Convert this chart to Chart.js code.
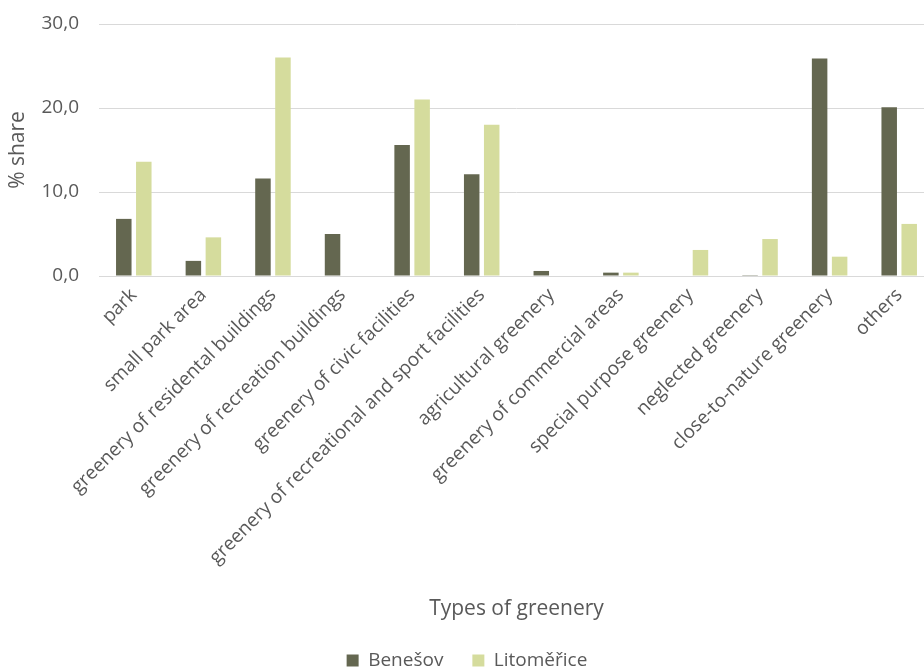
<!DOCTYPE html>
<html>
<head>
<meta charset="utf-8">
<script src="https://cdn.jsdelivr.net/npm/chart.js@4"></script>
<style>
  html, body { margin: 0; padding: 0; background: #fff; overflow: hidden; }
  #clip { width: 924px; height: 669px; overflow: hidden; }
  #wrap { width: 936px; height: 680px; }
</style>
</head>
<body>
<div id="clip"><div id="wrap"><canvas id="chart"></canvas></div></div>
<script>
// categories and values
var categories = [
  "park",
  "small park area",
  "greenery of residental buildings",
  "greenery of recreation buildings",
  "greenery of civic facilities",
  "greenery of recreational and sport facilities",
  "agricultural greenery",
  "greenery of commercial areas",
  "special purpose greenery",
  "neglected greenery",
  "close-to-nature greenery",
  "others"
];
var benesov     = [6.8, 1.8, 11.6, 5.0, 15.6, 12.1, 0.6, 0.4, 0.0, 0.1, 25.9, 20.1];
var litomerice  = [13.6, 4.6, 26.0, 0.0, 21.0, 18.0, 0.0, 0.4, 3.1, 4.4, 2.3, 6.2];
var seriesNames = ["Benešov", "Litoměřice"];
var yTicks      = [0, 10, 20, 30];

var textColor = '#595959';
var fontFam = '"Open Sans", sans-serif';

var ctx = document.getElementById('chart');
var chart = new Chart(ctx, {
  type: 'bar',
  data: {
    labels: categories,
    datasets: [
      { label: seriesNames[0], data: benesov, backgroundColor: '#646750' },
      { label: seriesNames[1], data: litomerice, backgroundColor: '#d5dc9d' }
    ]
  },
  options: {
    responsive: true,
    maintainAspectRatio: false,
    animation: false,
    categoryPercentage: 0.575,
    barPercentage: 0.775,
    layout: { padding: { top: 24, right: 2, bottom: 0, left: 0 } },
    plugins: {
      tooltip: { enabled: false },
      legend: {
        position: 'bottom',
        labels: {
          color: textColor,
          font: { family: fontFam, size: 19 },
          boxWidth: 12,
          boxHeight: 12,
          padding: 29
        }
      }
    },
    scales: {
      x: {
        grid: { display: false, drawTicks: false },
        border: { color: '#d9d9d9' },
        ticks: {
          color: textColor,
          font: { family: fontFam, size: 19 },
          maxRotation: 45,
          minRotation: 45,
          autoSkip: false,
          padding: 8
        },
        title: {
          display: true,
          text: 'Types of greenery',
          color: textColor,
          font: { family: fontFam, size: 21 },
          padding: { top: 0, bottom: 0 }
        },
        afterFit: function(s){ s.height = 346; }
      },
      y: {
        min: 0,
        max: 30,
        afterBuildTicks: function(s){ s.ticks = yTicks.map(function(v){ return { value: v }; }); },
        grid: { color: '#d9d9d9', drawTicks: true, tickLength: 16, tickColor: 'rgba(0,0,0,0)' },
        border: { display: false },
        ticks: {
          color: textColor,
          font: { family: fontFam, size: 19 },
          padding: 4,
          callback: function(v){ return v.toFixed(1).replace('.', ','); }
        },
        title: {
          display: true,
          text: '% share',
          color: textColor,
          font: { family: fontFam, size: 21 },
          padding: { top: 5, bottom: 0 }
        },
        afterFit: function(s){ s.width = 99; }
      }
    }
  }
});
</script>
</body>
</html>
